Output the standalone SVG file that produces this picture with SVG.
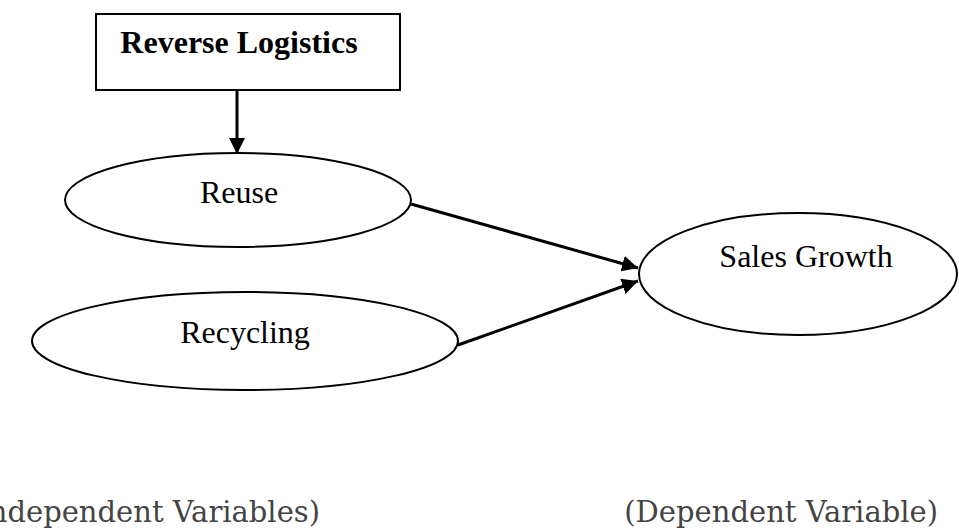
<svg xmlns="http://www.w3.org/2000/svg" width="959" height="531" viewBox="0 0 959 531">
  <style>
    .shape { fill: #ffffff; stroke: #000000; stroke-width: 2; }
    .edge { fill: none; stroke: #000000; stroke-width: 3; }
    .label { font-family: "Liberation Serif", "Times New Roman", serif; font-size: 32px; fill: #000000; text-anchor: middle; }
    .bold { font-weight: bold; }
    .note { font-family: "DejaVu Serif", "Liberation Serif", serif; font-size: 29px; fill: #444444; text-anchor: end; }
  </style>
  <defs>
    <marker id="arrow" markerUnits="userSpaceOnUse" markerWidth="18" markerHeight="16" refX="16" refY="8" orient="auto">
      <path d="M0,0 L16,8 L0,16 Z" fill="#000000"/>
    </marker>
  </defs>

  <g id="reverse-logistics">
    <rect class="shape" x="96" y="14" width="304" height="76"/>
    <text class="label bold" x="239" y="53">Reverse Logistics</text>
  </g>

  <g id="reuse">
    <ellipse class="shape" cx="238" cy="200" rx="173" ry="47"/>
    <text class="label" x="239" y="203">Reuse</text>
  </g>

  <g id="recycling">
    <ellipse class="shape" cx="245" cy="341" rx="213" ry="49"/>
    <text class="label" x="245" y="343">Recycling</text>
  </g>

  <g id="sales-growth">
    <ellipse class="shape" cx="798" cy="274" rx="159" ry="61"/>
    <text class="label" x="806" y="267">Sales Growth</text>
  </g>

  <g id="connectors">
    <line class="edge" x1="237" y1="90" x2="237" y2="154" marker-end="url(#arrow)"/>
    <line class="edge" x1="411" y1="204" x2="638" y2="268" marker-end="url(#arrow)"/>
    <line class="edge" x1="458" y1="345" x2="638" y2="281" marker-end="url(#arrow)"/>
  </g>

  <g id="captions">
    <text class="note" x="320" y="522">(Independent Variables)</text>
    <text class="note" x="938" y="522">(Dependent Variable)</text>
  </g>
</svg>
